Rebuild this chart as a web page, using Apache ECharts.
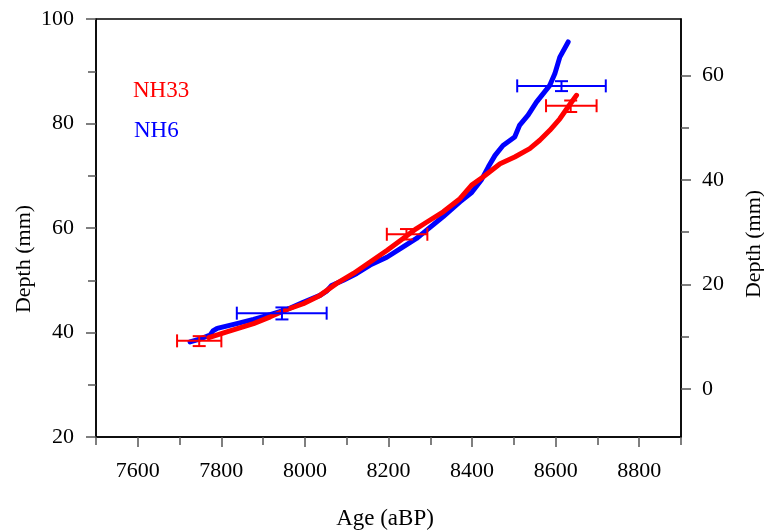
<!DOCTYPE html>
<html>
<head>
<meta charset="utf-8">
<script src="https://cdn.jsdelivr.net/npm/echarts@6/dist/echarts.min.js"></script>
<style>
  html, body { margin: 0; padding: 0; background: #fff; }
  #chart { width: 764px; height: 530px; }
</style>
</head>
<body>
<div id="chart"></div>
<script>
// NH6 (blue) age-depth curve
var nh6Age = [7725, 7750, 7773, 7780, 7790, 7837, 7877, 7917, 7957, 7996, 8036, 8052, 8064, 8092, 8124, 8156, 8196, 8235, 8267, 8287, 8331, 8371, 8399, 8423, 8439, 8455, 8474, 8502, 8514, 8534, 8554, 8586, 8598, 8610, 8630];
var nh6Depth = [38.2, 38.8, 39.5, 40.3, 40.8, 41.7, 42.5, 43.4, 44.4, 45.8, 47.1, 47.9, 49.0, 50.0, 51.3, 52.9, 54.4, 56.4, 58.0, 59.3, 62.2, 65.0, 66.8, 69.3, 71.7, 73.9, 75.8, 77.4, 79.7, 81.6, 84.1, 87.3, 89.5, 92.7, 95.6];

// NH33 (red) age-depth curve
var nh33Age = [7770, 7813, 7877, 7917, 7957, 7996, 8036, 8076, 8116, 8156, 8196, 8235, 8267, 8291, 8331, 8371, 8399, 8427, 8467, 8502, 8538, 8562, 8586, 8610, 8630, 8650];
var nh33Depth = [39.0, 40.1, 41.7, 43.0, 44.4, 45.5, 47.1, 49.4, 51.3, 53.5, 55.7, 58.0, 59.9, 61.1, 63.1, 65.6, 68.2, 69.8, 72.3, 73.6, 75.2, 76.8, 78.7, 80.9, 83.2, 85.4];

// dated points with age and depth uncertainty
var errSample = ['NH33', 'NH6', 'NH33', 'NH6', 'NH33'];
var errAge = [7747, 7945, 8243, 8614, 8636];
var errAgeLo = [7694, 7837, 8196, 8508, 8577];
var errAgeHi = [7800, 8052, 8293, 8720, 8698];
var errDepth = [38.4, 43.7, 58.8, 87.2, 83.4];
var errDepthLo = [37.4, 42.5, 57.8, 86.2, 82.2];
var errDepthHi = [39.3, 44.8, 59.8, 88.1, 84.4];

var xLabels = [7600, 7800, 8000, 8200, 8400, 8600, 8800];
var xMinor = [7500, 7700, 7900, 8100, 8300, 8500, 8700, 8900];
var rightLabels = [0, 20, 40, 60];
var rightMinor = [10, 30, 50];

var colors = { NH33: '#ff0000', NH6: '#0000ff' };
var font = 'Liberation Serif';

var chart = echarts.init(document.getElementById('chart'));

function pairs(xs, ys) {
  return xs.map(function (x, i) { return [x, ys[i]]; });
}

var errData = errAge.map(function (a, i) {
  return [a, errDepth[i], errAgeLo[i], errAgeHi[i], errDepthLo[i], errDepthHi[i], i];
});

function renderErr(params, api) {
  var i = api.value(6);
  var c = colors[errSample[i]];
  var l = api.coord([api.value(2), api.value(1)]);
  var r = api.coord([api.value(3), api.value(1)]);
  var t = api.coord([api.value(0), api.value(5)]);
  var b = api.coord([api.value(0), api.value(4)]);
  var cap = 6.5;
  var st = { stroke: c, lineWidth: 2, fill: null };
  function seg(x1, y1, x2, y2) {
    return { type: 'line', shape: { x1: x1, y1: y1, x2: x2, y2: y2 }, style: st };
  }
  return {
    type: 'group',
    children: [
      seg(l[0], l[1], r[0], r[1]),
      seg(l[0], l[1] - cap, l[0], l[1] + cap),
      seg(r[0], r[1] - cap, r[0], r[1] + cap),
      seg(t[0], t[1], b[0], b[1]),
      seg(t[0] - cap, t[1], t[0] + cap, t[1]),
      seg(b[0] - cap, b[1], b[0] + cap, b[1])
    ]
  };
}

var labelStyle = { fontFamily: font, fontSize: 22, color: '#000', formatter: function (v) { return String(v); } };
var tickStyle = { color: '#555', width: 1.5 };
var nameFont = '23px "Liberation Serif"';

var option = {
  animation: false,
  backgroundColor: '#fff',
  grid: {
    left: 96, top: 19, width: 585, height: 418,
    show: true, borderColor: '#000', borderWidth: 1.5, backgroundColor: 'transparent'
  },
  xAxis: [{
    type: 'value', min: 7500, max: 8900, interval: 100,
    axisLine: { show: true, onZero: false, lineStyle: { color: '#000', width: 1.5 } },
    axisTick: { show: true, customValues: xLabels, length: 10, lineStyle: tickStyle },
    axisLabel: Object.assign({ customValues: xLabels, margin: 23 }, labelStyle),
    splitLine: { show: false }
  }, {
    type: 'value', min: 7500, max: 8900, interval: 100, position: 'bottom',
    axisLine: { show: false, onZero: false },
    axisTick: { show: true, customValues: xMinor, length: 8, lineStyle: tickStyle },
    axisLabel: { show: false },
    splitLine: { show: false }
  }],
  yAxis: [{
    type: 'value', min: 20, max: 100, interval: 20, position: 'left',
    axisLine: { show: true, onZero: false, lineStyle: { color: '#000', width: 1.5 } },
    axisTick: { show: true, length: 10, lineStyle: tickStyle },
    minorTick: { show: true, splitNumber: 2, length: 8, lineStyle: tickStyle },
    axisLabel: Object.assign({ margin: 22 }, labelStyle),
    splitLine: { show: false }
  }, {
    type: 'value', min: -9.2, max: 70.8, position: 'right',
    axisLine: { show: true, onZero: false, lineStyle: { color: '#000', width: 1.5 } },
    axisTick: { show: true, customValues: rightLabels, length: 10, lineStyle: tickStyle },
    axisLabel: Object.assign({ customValues: rightLabels, margin: 21 }, labelStyle),
    splitLine: { show: false }
  }, {
    type: 'value', min: -9.2, max: 70.8, position: 'right',
    axisLine: { show: false, onZero: false },
    axisTick: { show: true, customValues: rightMinor, length: 8, lineStyle: tickStyle },
    axisLabel: { show: false },
    splitLine: { show: false }
  }],
  graphic: [
    { type: 'text', x: 133, y: 91, style: { text: 'NH33', fill: colors.NH33, font: nameFont, textVerticalAlign: 'middle' } },
    { type: 'text', x: 134, y: 131, style: { text: 'NH6', fill: colors.NH6, font: nameFont, textVerticalAlign: 'middle' } },
    { type: 'text', x: 24, y: 259, rotation: Math.PI / 2, style: { text: 'Depth (mm)', fill: '#000', font: '22px "Liberation Serif"', textAlign: 'center', textVerticalAlign: 'middle' } },
    { type: 'text', x: 754, y: 244, rotation: Math.PI / 2, style: { text: 'Depth (mm)', fill: '#000', font: '22px "Liberation Serif"', textAlign: 'center', textVerticalAlign: 'middle' } },
    { type: 'text', x: 385, y: 519, style: { text: 'Age (aBP)', fill: '#000', font: nameFont, textAlign: 'center', textVerticalAlign: 'middle' } }
  ],
  series: [{
    name: 'NH6', type: 'line', xAxisIndex: 0, yAxisIndex: 0,
    data: pairs(nh6Age, nh6Depth),
    showSymbol: false, symbol: 'none',
    lineStyle: { color: colors.NH6, width: 5, cap: 'round', join: 'round' }
  }, {
    name: 'NH33', type: 'line', xAxisIndex: 0, yAxisIndex: 0,
    data: pairs(nh33Age, nh33Depth),
    showSymbol: false, symbol: 'none',
    lineStyle: { color: colors.NH33, width: 5, cap: 'round', join: 'round' }
  }, {
    name: 'dates', type: 'custom', xAxisIndex: 0, yAxisIndex: 0,
    data: errData,
    renderItem: renderErr,
    z: 5
  }]
};

chart.setOption(option);
</script>
</body>
</html>
